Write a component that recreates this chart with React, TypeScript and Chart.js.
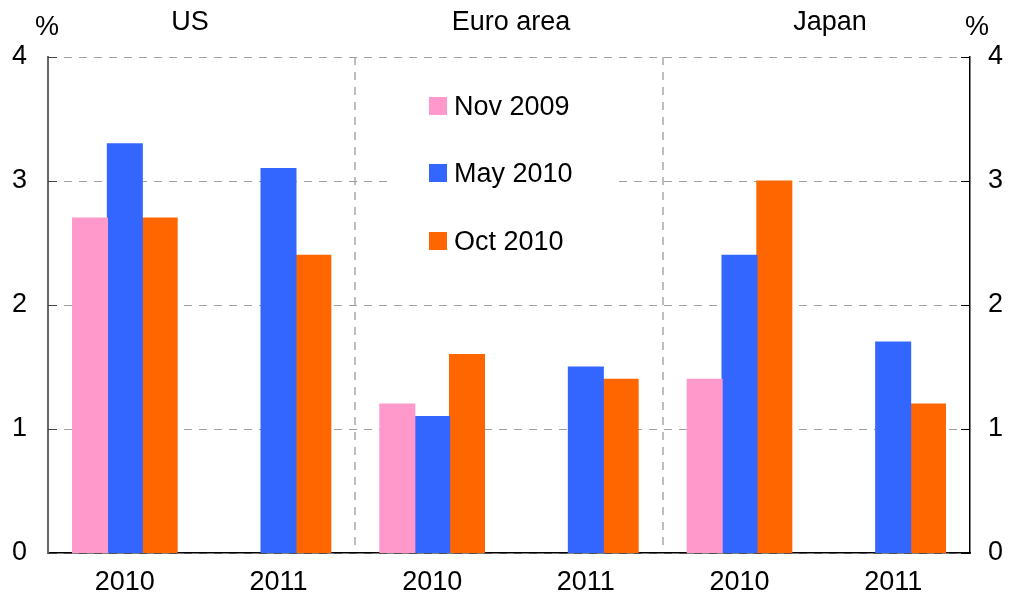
import React, { useEffect, useRef } from "react";
import { Chart, registerables } from "chart.js";

Chart.register(...registerables);

const categories = ["2010", "2011", "2010", "2011", "2010", "2011"];
const regionNames = ["US", "Euro area", "Japan"];
const seriesNames = ["Nov 2009", "May 2010", "Oct 2010"];
const nov2009 = [2.7, null, 1.2, null, 1.4, null];
const may2010 = [3.3, 3.1, 1.1, 1.5, 2.4, 1.7];
const oct2010 = [2.7, 2.4, 1.6, 1.4, 3.0, 1.2];
const yTicks = [0, 1, 2, 3, 4];
const seriesColors = ["#ff99cc", "#3366ff", "#ff6600"];

const FONT = "'Liberation Sans', Arial, sans-serif";
const FS = 27;

const decorPlugin = {
  id: "decor",
  afterDraw(chart: any) {
    const ctx = chart.ctx;
    const area = chart.chartArea;
    const y = chart.scales.y;
    ctx.save();
    // inward tick marks
    ctx.lineWidth = 1;
    for (const v of yTicks) {
      const py = Math.round(y.getPixelForValue(v)) + 0.5;
      ctx.strokeStyle = "#444";
      ctx.beginPath();
      ctx.moveTo(area.left, py);
      ctx.lineTo(area.left + 9, py);
      ctx.stroke();
      ctx.strokeStyle = "#000";
      ctx.beginPath();
      ctx.moveTo(area.right - 9, py);
      ctx.lineTo(area.right, py);
      ctx.stroke();
    }
    // titles
    ctx.fillStyle = "#000";
    ctx.font = `${FS}px ${FONT}`;
    ctx.textAlign = "center";
    ctx.textBaseline = "alphabetic";
    const titleX = [190, 511, 830];
    regionNames.forEach((n, i) => ctx.fillText(n, titleX[i], 30));
    ctx.fillText("%", 47, 35);
    ctx.fillText("%", 977, 35);
    // legend
    ctx.fillStyle = "#fff";
    ctx.fillRect(390, 75, 227, 190);
    const tops = [97, 164, 232];
    seriesNames.forEach((n, i) => {
      ctx.fillStyle = seriesColors[i];
      ctx.fillRect(429, tops[i], 18, 18);
      ctx.fillStyle = "#000";
      ctx.textAlign = "left";
      ctx.fillText(n, 454, tops[i] + 18);
    });
    ctx.restore();
  },
};

export default function App() {
  const ref = useRef<HTMLCanvasElement>(null);
  useEffect(() => {
    document.body.style.margin = "0";
    const chart = new Chart(ref.current as HTMLCanvasElement, {
      type: "bar",
      data: {
        labels: categories,
        datasets: [nov2009, may2010, oct2010].map((d, i) => ({
          label: seriesNames[i],
          data: d as any,
          backgroundColor: seriesColors[i],
          borderWidth: 0,
          inflateAmount: 0.6,
          categoryPercentage: 0.68,
          barPercentage: 1,
        })),
      },
      options: {
        animation: false,
        responsive: false,
        devicePixelRatio: 1,
        layout: { padding: { top: 57, left: 0, right: 0, bottom: 0 } },
        plugins: { legend: { display: false }, tooltip: { enabled: false } },
        font: { family: FONT, size: FS },
        scales: {
          x: {
            afterFit: (s: any) => { s.height = 50; },
            ticks: { color: "#000", font: { family: FONT, size: FS }, padding: 13, maxRotation: 0 },
            grid: {
              offset: true,
              drawTicks: false,
              lineWidth: 2,
              color: (c: any) => (c.index === 2 || c.index === 4 ? "#bdbdbd" : "rgba(0,0,0,0)"),
            },
            border: { display: true, color: "#000", width: 1.5, dash: [8, 7] },
          },
          y: {
            position: "left",
            min: 0,
            max: 4,
            afterFit: (s: any) => { s.width = 48; },
            ticks: { stepSize: 1, color: "#000", font: { family: FONT, size: FS }, padding: 21 },
            grid: { drawTicks: false, color: "#a0a0a0" },
            border: { display: true, color: "#666", width: 2, dash: [8, 7] },
          },
          y2: {
            position: "right",
            min: 0,
            max: 4,
            afterFit: (s: any) => { s.width = 42; },
            ticks: { stepSize: 1, color: "#000", font: { family: FONT, size: FS }, padding: 18 },
            grid: { display: false, drawTicks: false },
            border: { display: true, color: "#000", width: 1.5 },
          },
        },
      } as any,
      plugins: [decorPlugin],
    });
    return () => chart.destroy();
  }, []);
  return (
    <div style={{ position: "absolute", left: 0, top: 0, width: 1012, height: 603 }}>
      <canvas ref={ref} width={1012} height={603} />
    </div>
  );
}
